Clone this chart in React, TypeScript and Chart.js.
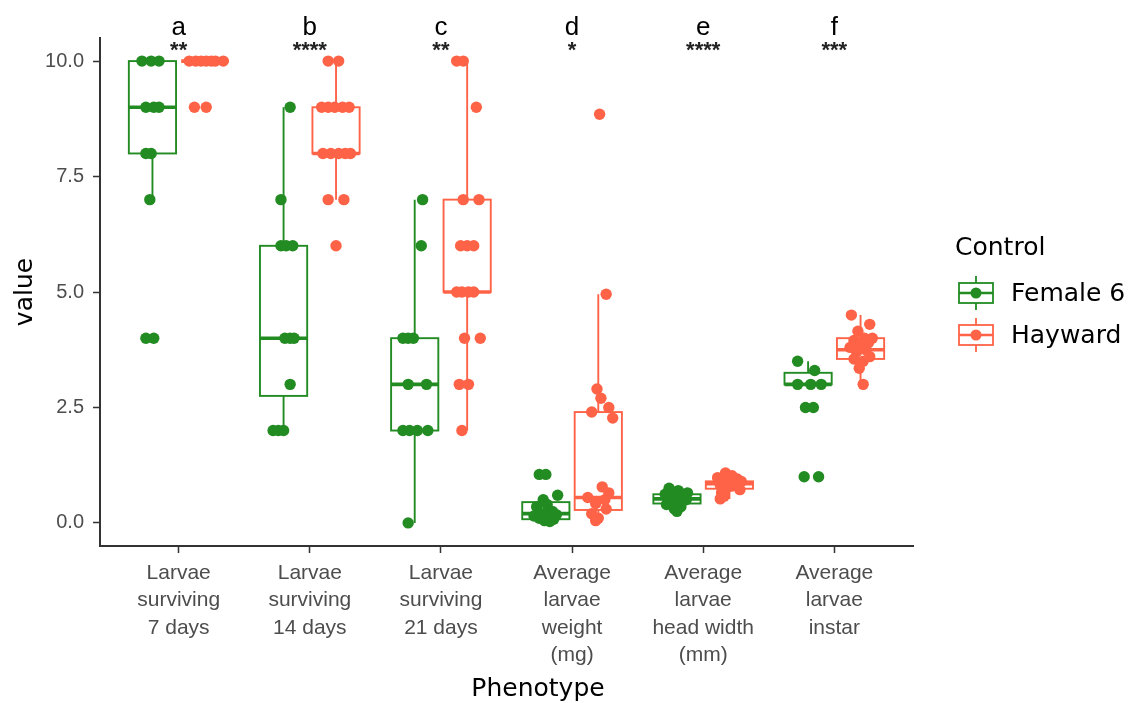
import React, { useEffect, useRef } from "react";
import { Chart, registerables } from "chart.js";

Chart.register(...registerables);

// ---------- data ----------
const categories: string[][] = [
  ["Larvae", "surviving", "7 days"],
  ["Larvae", "surviving", "14 days"],
  ["Larvae", "surviving", "21 days"],
  ["Average", "larvae", "weight", "(mg)"],
  ["Average", "larvae", "head width", "(mm)"],
  ["Average", "larvae", "instar"],
];
const groupLetters = ["a", "b", "c", "d", "e", "f"];
const significance = ["**", "****", "**", "*", "****", "***"];
const seriesNames = ["Female 6", "Hayward"];
const seriesColors = ["#228B22", "#FF6347"];
const yTickValues = [0, 2.5, 5, 7.5, 10];
const legendTitle = "Control";
const xTitle = "Phenotype";
const yTitle = "value";

// box statistics per category: [lower whisker, Q1, median, Q3, upper whisker]
const female6Boxes: number[][] = [
  [7, 8, 9, 10, 10],
  [2, 2.75, 4, 6, 9],
  [0, 2, 3, 4, 7],
  [0.02, 0.08, 0.2, 0.45, 0.6],
  [0.25, 0.42, 0.52, 0.62, 0.75],
  [3, 3, 3, 3.25, 3.5],
];
const haywardBoxes: number[][] = [
  [10, 10, 10, 10, 10],
  [7, 8, 8, 9, 10],
  [2, 5, 5, 7, 10],
  [0.05, 0.28, 0.55, 2.4, 4.95],
  [0.52, 0.74, 0.85, 0.9, 1.08],
  [3, 3.55, 3.75, 4, 4.5],
];

// observed points per category
const female6Values: number[][] = [
  [10, 10, 10, 9, 9, 9, 8, 8, 7, 4, 4],
  [9, 7, 6, 6, 6, 4, 4, 4, 3, 2, 2, 2],
  [7, 6, 4, 4, 4, 3, 3, 2, 2, 2, 2, 0],
  [1.05, 1.05, 0.6, 0.5, 0.4, 0.35, 0.25, 0.2, 0.18, 0.15, 0.12, 0.1, 0.08, 0.05, 0.03],
  [0.75, 0.7, 0.65, 0.62, 0.58, 0.55, 0.5, 0.48, 0.45, 0.4, 0.35, 0.3, 0.25],
  [3.5, 3.3, 3, 3, 3, 2.5, 2.5, 1, 1],
];
// horizontal jitter (category units) of each point
const female6Jitter: number[][] = [
  [-0.08, -0.01, 0.05, -0.05, 0.01, 0.05, -0.05, -0.01, -0.02, -0.05, 0.01],
  [0.05, -0.02, -0.02, 0.02, 0.07, 0.01, 0.05, 0.08, 0.05, -0.08, -0.04, 0],
  [0.06, 0.05, -0.09, -0.05, -0.01, -0.05, 0.09, -0.09, -0.04, 0.02, 0.1, -0.05],
  [-0.05, 0, 0.09, -0.02, 0.01, -0.07, 0.05, -0.02, 0.08, -0.09, 0.02, -0.05, 0.06, -0.01, 0.03],
  [-0.06, 0.01, 0.08, -0.09, 0.04, -0.02, 0.07, -0.05, 0.02, -0.08, 0.03, -0.02, 0],
  [-0.08, 0.05, -0.08, 0.02, 0.1, -0.02, 0.04, -0.03, 0.08],
];
const haywardValues: number[][] = [
  [10, 10, 10, 10, 10, 10, 10, 9, 9],
  [10, 10, 9, 9, 9, 9, 9, 8, 8, 8, 8, 8, 7, 7, 6],
  [10, 10, 9, 7, 7, 6, 6, 6, 5, 5, 5, 5, 4, 4, 3, 3, 2],
  [8.85, 4.95, 2.9, 2.7, 2.5, 2.4, 2.27, 0.78, 0.65, 0.55, 0.5, 0.42, 0.3, 0.2, 0.1, 0.05],
  [1.08, 1.02, 0.98, 0.95, 0.92, 0.9, 0.88, 0.85, 0.82, 0.8, 0.76, 0.72, 0.65, 0.58, 0.52],
  [4.5, 4.3, 4.15, 4, 4, 3.95, 3.9, 3.85, 3.8, 3.75, 3.7, 3.6, 3.55, 3.5, 3.35, 3],
];
const haywardJitter: number[][] = [
  [-0.12, -0.07, -0.03, 0.01, 0.05, 0.08, 0.14, -0.08, 0.01],
  [-0.06, 0.02, -0.11, -0.06, -0.01, 0.05, 0.1, -0.1, -0.04, 0.02, 0.07, 0.11, -0.06, 0.06, 0],
  [-0.08, -0.03, 0.07, -0.03, 0.09, -0.05, 0, 0.05, -0.08, -0.04, 0.01, 0.05, -0.02, 0.1, -0.06, 0.01, -0.04],
  [0.01, 0.06, -0.01, 0.02, 0.08, -0.05, 0.11, 0.03, 0.08, -0.08, 0.05, -0.02, 0.06, -0.05, 0, -0.02],
  [-0.03, 0.02, -0.09, 0.06, -0.05, 0.09, -0.01, 0.04, -0.07, 0.02, -0.02, 0.08, -0.06, -0.04, -0.07],
  [-0.07, 0.07, -0.02, 0.09, 0.03, -0.05, 0.06, 0, -0.08, 0.04, -0.03, 0.07, -0.05, 0.02, -0.01, 0.02],
];

// ---------- styling constants ----------
const seriesBoxes = [female6Boxes, haywardBoxes];
const seriesValues = [female6Values, haywardValues];
const seriesJitter = [female6Jitter, haywardJitter];
const DODGE = [-0.2, 0.2];
const BOX_HALF = 0.18;
const TICK_FONT = '"Liberation Sans", Arial, sans-serif';
const TITLE_FONT = '"DejaVu Sans", sans-serif';
const AXIS_COLOR = "#333333";
const TICK_TEXT = "#4D4D4D";

function buildPoints(s: number) {
  const pts: { x: number; y: number }[] = [];
  seriesValues[s].forEach((vals, i) => {
    vals.forEach((v, j) => {
      pts.push({ x: i + 1 + DODGE[s] + seriesJitter[s][i][j], y: v });
    });
  });
  return pts;
}

const boxPlugin = {
  id: "boxplots",
  beforeDatasetsDraw(chart: any) {
    const { ctx, scales } = chart;
    const x = scales.x;
    const y = scales.y;
    seriesBoxes.forEach((boxes, s) => {
      ctx.save();
      ctx.strokeStyle = seriesColors[s];
      boxes.forEach((b, i) => {
        const [lo, q1, med, q3, hi] = b;
        const c = i + 1 + DODGE[s];
        const cx = x.getPixelForValue(c);
        const xl = x.getPixelForValue(c - BOX_HALF);
        const xr = x.getPixelForValue(c + BOX_HALF);
        ctx.lineWidth = 1.9;
        ctx.beginPath();
        ctx.moveTo(cx, y.getPixelForValue(q3));
        ctx.lineTo(cx, y.getPixelForValue(hi));
        ctx.moveTo(cx, y.getPixelForValue(q1));
        ctx.lineTo(cx, y.getPixelForValue(lo));
        ctx.stroke();
        const top = y.getPixelForValue(q3);
        const bot = y.getPixelForValue(q1);
        ctx.strokeRect(xl, top, xr - xl, bot - top);
        ctx.lineWidth = 3.6;
        ctx.beginPath();
        ctx.moveTo(xl, y.getPixelForValue(med));
        ctx.lineTo(xr, y.getPixelForValue(med));
        ctx.stroke();
      });
      ctx.restore();
    });
  },
};

const annotationPlugin = {
  id: "annotations",
  afterDraw(chart: any) {
    const { ctx, scales, chartArea } = chart;
    const x = scales.x;
    ctx.save();
    // letters and significance stars above each category
    ctx.textAlign = "center";
    ctx.textBaseline = "alphabetic";
    groupLetters.forEach((l, i) => {
      const px = x.getPixelForValue(i + 1);
      ctx.fillStyle = "#000000";
      ctx.font = `26px ${TICK_FONT}`;
      ctx.fillText(l, px, 35);
      ctx.fillStyle = "#222222";
      ctx.font = `bold 22px ${TICK_FONT}`;
      ctx.fillText(significance[i], px, 57);
    });
    // axis titles
    ctx.fillStyle = "#000000";
    ctx.font = `25px ${TITLE_FONT}`;
    ctx.textBaseline = "middle";
    ctx.fillText(xTitle, 538, 689);
    ctx.save();
    ctx.translate(25, (chartArea.top + chartArea.bottom) / 2);
    ctx.rotate(-Math.PI / 2);
    ctx.fillText(yTitle, 0, 0);
    ctx.restore();
    // legend
    ctx.textAlign = "left";
    ctx.font = `25px ${TITLE_FONT}`;
    ctx.fillText(legendTitle, 955, 248);
    const rows = [293, 335];
    seriesNames.forEach((name, s) => {
      const cy = rows[s];
      const kx = 959;
      const kw = 34;
      const kc = kx + kw / 2;
      ctx.strokeStyle = seriesColors[s];
      ctx.fillStyle = seriesColors[s];
      ctx.lineWidth = 1.8;
      ctx.beginPath();
      ctx.moveTo(kc, cy - 17);
      ctx.lineTo(kc, cy - 10);
      ctx.moveTo(kc, cy + 10);
      ctx.lineTo(kc, cy + 17);
      ctx.stroke();
      ctx.strokeRect(kx, cy - 10, kw, 20);
      ctx.lineWidth = 2.4;
      ctx.beginPath();
      ctx.moveTo(kx, cy);
      ctx.lineTo(kx + kw, cy);
      ctx.stroke();
      ctx.beginPath();
      ctx.arc(kc, cy, 5.5, 0, Math.PI * 2);
      ctx.fill();
      ctx.fillStyle = "#000000";
      ctx.fillText(name, 1011, cy + 1);
    });
    ctx.restore();
  },
};

export default function App() {
  const canvasRef = useRef<HTMLCanvasElement | null>(null);

  useEffect(() => {
    if (!canvasRef.current) return;
    const chart = new Chart(canvasRef.current, {
      type: "scatter",
      data: {
        datasets: seriesNames.map((name, s) => ({
          label: name,
          data: buildPoints(s),
          backgroundColor: seriesColors[s],
          borderWidth: 0,
          pointRadius: 5.7,
          pointHoverRadius: 5.7,
        })),
      },
      options: {
        responsive: false,
        animation: false,
        events: [],
        layout: { padding: { left: 0, right: 218, top: 38, bottom: 0 } },
        plugins: {
          legend: { display: false },
          tooltip: { enabled: false },
          title: { display: false },
        },
        scales: {
          x: {
            type: "linear",
            min: 0.4,
            max: 6.6,
            afterFit: (scale: any) => {
              scale.height = 157;
            },
            afterBuildTicks: (scale: any) => {
              scale.ticks = categories.map((_, i) => ({ value: i + 1 }));
            },
            grid: {
              display: true,
              drawOnChartArea: false,
              drawTicks: true,
              tickLength: 7,
              tickColor: AXIS_COLOR,
              tickWidth: 1.5,
            },
            border: { display: true, color: AXIS_COLOR, width: 2 },
            ticks: {
              autoSkip: false,
              maxRotation: 0,
              minRotation: 0,
              padding: 6,
              color: TICK_TEXT,
              font: { family: TICK_FONT, size: 21, lineHeight: 1.31 },
              callback: (v: any) => categories[Math.round(Number(v)) - 1] ?? "",
            },
          },
          y: {
            type: "linear",
            min: -0.5,
            max: 10.5,
            afterFit: (scale: any) => {
              scale.width = 100;
            },
            afterBuildTicks: (scale: any) => {
              scale.ticks = yTickValues.map((v) => ({ value: v }));
            },
            grid: {
              display: true,
              drawOnChartArea: false,
              drawTicks: true,
              tickLength: 7,
              tickColor: AXIS_COLOR,
              tickWidth: 1.5,
            },
            border: { display: true, color: AXIS_COLOR, width: 2 },
            ticks: {
              padding: 9,
              color: TICK_TEXT,
              font: { family: TICK_FONT, size: 20 },
              callback: (v: any) => Number(v).toFixed(1),
            },
          },
        },
      },
      plugins: [boxPlugin, annotationPlugin],
    });
    return () => chart.destroy();
  }, []);

  return (
    <div style={{ position: "fixed", left: 0, top: 0, width: 1131, height: 703, background: "#ffffff" }}>
      <canvas ref={canvasRef} width={1131} height={703} style={{ display: "block" }} />
    </div>
  );
}
